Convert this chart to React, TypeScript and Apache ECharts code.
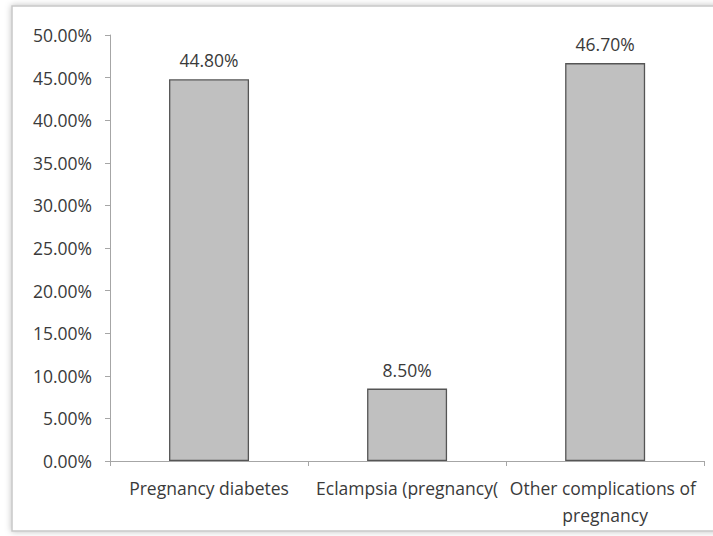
import React, { useEffect, useRef } from "react";
import * as echarts from "echarts";

const categories = ["Pregnancy diabetes", "Eclampsia (pregnancy(", "Other complications of pregnancy"];
const values = [44.8, 8.5, 46.7];
const yTicks = [0, 5, 10, 15, 20, 25, 30, 35, 40, 45, 50];

const FONT = "'Open Sans', sans-serif";

export default function App() {
  const ref = useRef<HTMLDivElement>(null);

  useEffect(() => {
    document.body.style.margin = "0";
    const chart = echarts.init(ref.current!, undefined, { renderer: "svg" });
    chart.setOption({
      animation: false,
      backgroundColor: "#ffffff",
      graphic: [
        {
          type: "rect",
          shape: { x: 12, y: 6, width: 720, height: 525 },
          style: {
            fill: "#ffffff",
            stroke: "#c8c8c8",
            lineWidth: 1.5,
            shadowBlur: 6,
            shadowColor: "rgba(0,0,0,0.25)",
            shadowOffsetX: 0,
            shadowOffsetY: 0,
          },
          z: -10,
          silent: true,
        },
      ],
      grid: { left: 110, right: 2, top: 35, bottom: 75, containLabel: false },
      xAxis: {
        type: "category",
        data: categories,
        axisLine: { lineStyle: { color: "#a6a6a6", width: 1 } },
        axisTick: { show: true, length: 5, lineStyle: { color: "#a6a6a6" } },
        axisLabel: {
          color: "#3a3a3a",
          fontFamily: FONT,
          fontSize: 17.5,
          margin: 13,
          width: 212,
          overflow: "break",
          lineHeight: 27,
          interval: 0,
        },
      },
      yAxis: {
        type: "value",
        min: 0,
        max: 50,
        interval: 5,
        splitLine: { show: false },
        axisLine: { show: true, lineStyle: { color: "#a6a6a6", width: 1 } },
        axisTick: { show: true, length: 5, lineStyle: { color: "#a6a6a6" } },
        axisLabel: {
          color: "#3a3a3a",
          fontFamily: FONT,
          fontSize: 17.5,
          margin: 18,
          formatter: (v: number) => (yTicks.includes(v) ? v.toFixed(2) + "%" : ""),
        },
      },
      series: [
        {
          type: "bar",
          data: values,
          barWidth: 80,
          itemStyle: { color: "#c0c0c0", borderColor: "#555555", borderWidth: 1.3 },
          label: {
            show: true,
            position: "top",
            distance: 10,
            color: "#3a3a3a",
            fontFamily: FONT,
            fontSize: 17.5,
            formatter: (p: any) => Number(p.value).toFixed(2) + "%",
          },
        },
      ],
    });
    return () => chart.dispose();
  }, []);

  return <div ref={ref} style={{ width: 713, height: 536 }} />;
}
